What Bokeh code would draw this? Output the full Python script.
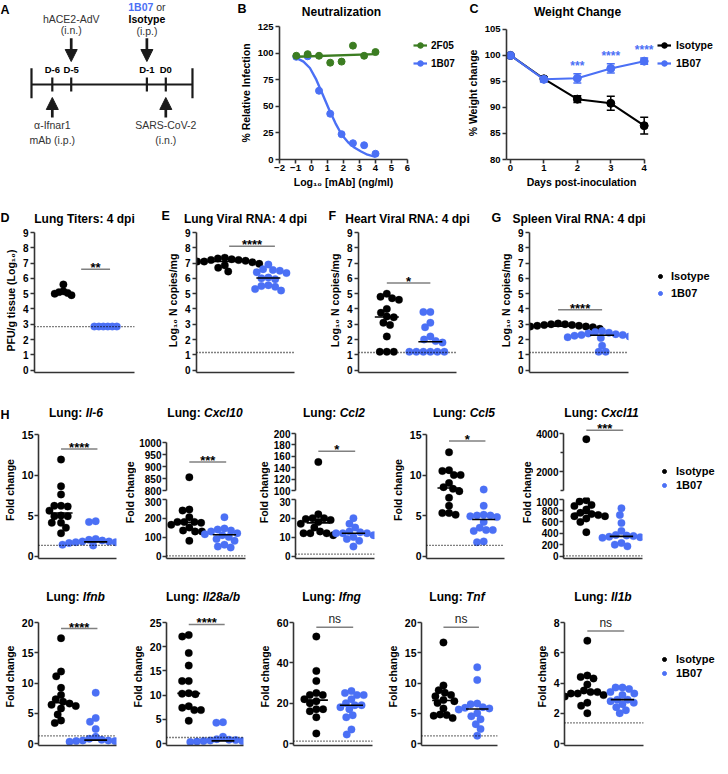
import math
import numpy as np
from bokeh.plotting import figure
from bokeh.layouts import row, column
from bokeh.models import (Range1d, LinearAxis, FixedTicker, Legend, LegendItem,
                          Whisker, ColumnDataSource, Arrow, NormalHead, TeeHead, Span)
from bokeh.core.properties import value
from bokeh.embed import file_html
from bokeh.resources import INLINE

FONT = "Liberation Sans"
BLUE = "#4b70f5"
GREEN = "#3c7d22"
INK = "#1a1a1a"
AXC = "#333333"
BARC = "#808080"

# ======================= DATA =======================
# A: schedule
sched_days = [-6, -5, -1, 0]
sched_labels = ["D-6", "D-5", "D-1", "D0"]
sched_ends = [-7.1, 1.41]
down_days = [-5, -1]
up_days = [-6, 0]

# B: neutralization
b_dose = [-0.95, -0.24, 0.47, 1.17, 1.88, 2.59, 3.29, 4.0]
b_2f05 = [97.5, 99.0, 97.5, 91.0, 92.0, 107.0, 97.5, 101.0]
b_1b07 = [96.5, 97.0, 64.6, 43.0, 23.8, 15.3, 13.4, 5.4]
b_fit_2f05_x = [-0.95, 4.0]
b_fit_2f05_y = [96.5, 99.0]
b_fit_1b07_x = [-0.95, -0.5, -0.1, 0.3, 0.7, 1.1, 1.5, 1.9, 2.3, 2.7, 3.1, 3.5, 4.0]
b_fit_1b07_y = [95.5, 92.0, 86.0, 75.0, 61.0, 47.0, 34.0, 23.0, 16.0, 11.0, 7.5, 4.5, 2.5]

# C: weight change
c_days = [0, 1, 2, 3, 4]
c_iso_mean = [100.0, 95.5, 91.6, 90.8, 86.5]
c_iso_err = [0.0, 0.4, 0.65, 1.35, 1.6]
c_b07_mean = [100.0, 95.4, 95.6, 97.5, 98.9]
c_b07_err = [0.0, 0.5, 0.9, 0.9, 0.6]
c_star_days = [2, 3, 4]
c_star_text = ["***", "****", "****"]

# D-G: viral burden (log10)
d_iso = [5.6, 5.15, 5.1, 5.05, 5.0, 4.9]
d_b07 = [2.85, 2.85, 2.85, 2.85, 2.85, 2.85]
e_iso = [7.35, 7.3, 7.25, 7.2, 7.2, 7.15, 7.1, 7.1, 7.05, 7.0, 6.95, 6.85, 6.7, 6.45]
e_b07 = [6.9, 6.6, 6.55, 6.5, 6.4, 6.35, 6.05, 6.0, 5.95, 5.55, 5.5, 5.45, 5.3, 5.2]
f_iso = [5.0, 4.8, 4.7, 4.6, 4.0, 3.75, 3.5, 3.45, 3.1, 2.95, 2.2, 1.2, 1.2, 1.2]
f_b07 = [3.8, 3.8, 3.1, 2.8, 2.2, 2.0, 1.9, 1.8, 1.2, 1.2, 1.2, 1.2, 1.2, 1.2]
g_iso = [3.05, 3.0, 3.0, 2.95, 2.95, 2.9, 2.9, 2.85, 2.85, 2.8, 2.8, 2.75, 2.7, 2.65]
g_b07 = [2.55, 2.5, 2.45, 2.4, 2.35, 2.3, 2.3, 2.25, 2.2, 2.15, 2.1, 1.6, 1.2, 1.2]

# H: cytokine fold change
il6_iso = [11.9, 8.6, 7.6, 6.2, 6.2, 6.1, 5.6, 5.0, 4.9, 4.9, 4.1, 4.1, 3.5, 2.8]
il6_b07 = [4.3, 4.2, 2.1, 2.0, 1.9, 1.8, 1.8, 1.7, 1.7, 1.6, 1.5, 1.4, 1.3, 1.2]
cxcl10_iso = [855, 245, 240, 205, 180, 180, 180, 175, 165, 150, 135, 130, 130, 80]
cxcl10_b07 = [205, 145, 140, 135, 130, 120, 115, 110, 100, 90, 80, 60, 50, 45]
ccl2_iso = [150, 22, 20, 20, 19.5, 19, 18, 17, 15, 13, 12, 12, 12, 11]
ccl2_b07 = [20, 17, 15, 13, 12.5, 12, 12, 12, 11, 10, 9, 8, 5]
ccl5_iso = [12.8, 10.6, 10.5, 10.0, 10.0, 9.0, 8.5, 8.3, 8.0, 7.2, 6.2, 5.3, 5.3, 5.1]
ccl5_b07 = [8.2, 6.2, 5.1, 5.0, 5.0, 4.9, 4.8, 4.2, 3.5, 3.2, 3.2, 3.1, 1.8, 1.7]
cxcl11_iso = [3700, 980, 960, 900, 880, 820, 760, 740, 720, 700, 700, 660, 600, 420]
cxcl11_b07 = [840, 720, 580, 440, 370, 360, 350, 340, 330, 320, 300, 230, 200, 170]
ifnb_iso = [17.4, 11.9, 11.1, 9.2, 8.0, 7.3, 6.9, 6.6, 6.4, 6.2, 5.8, 4.8, 3.8, 3.4]
ifnb_b07 = [8.4, 4.2, 3.6, 2.4, 1.1, 0.8, 0.6, 0.5, 0.5, 0.4, 0.4, 0.4, 0.3, 0.3]
il28_iso = [22.4, 22.1, 18.7, 16.1, 12.9, 12.9, 10.4, 10.3, 10.2, 7.7, 7.4, 6.9, 6.9, 4.7]
il28_b07 = [4.4, 4.3, 1.4, 0.9, 0.8, 0.7, 0.6, 0.5, 0.5, 0.4, 0.4, 0.3, 0.3, 0.3]
ifng_iso = [53, 36, 31, 25, 24, 24, 22, 21, 20, 17, 17, 16, 13, 5]
ifng_b07 = [26, 25, 24, 24, 22, 20, 19, 19, 18, 17, 14, 13, 7, 4.5]
tnf_iso = [16.7, 9.6, 8.8, 8.4, 8.0, 7.8, 7.2, 7.0, 6.7, 5.8, 4.8, 4.7, 4.6, 4.2]
tnf_b07 = [12.6, 10.5, 6.6, 6.5, 6.0, 5.9, 5.8, 5.6, 5.0, 4.5, 4.0, 3.2, 2.4, 1.3]
il1b_iso = [6.8, 4.5, 4.4, 4.3, 3.9, 3.5, 3.4, 3.4, 3.3, 3.3, 3.2, 3.1, 2.7, 2.5, 2.0]
il1b_b07 = [3.7, 3.7, 3.6, 3.4, 3.3, 3.2, 2.9, 2.9, 2.8, 2.7, 2.6, 2.4, 2.2, 2.0]

# ======================= HELPERS =======================
AW = {' ': 278, '-': 333, ':': 333, '/': 278, '(': 333, ')': 333, '.': 278, '*': 389,
      'a': 556, 'b': 611, 'c': 556, 'd': 611, 'e': 556, 'f': 333, 'g': 611, 'h': 611, 'i': 278,
      'j': 278, 'k': 556, 'l': 278, 'm': 889, 'n': 611, 'o': 611, 'p': 611, 'q': 611, 'r': 389,
      's': 556, 't': 333, 'u': 611, 'v': 556, 'w': 778, 'x': 556, 'y': 556, 'z': 500,
      'A': 722, 'B': 722, 'C': 722, 'D': 722, 'E': 667, 'F': 611, 'G': 778, 'H': 722, 'I': 278,
      'L': 611, 'N': 722, 'R': 722, 'S': 667, 'T': 611, 'W': 944}
AR = {' ': 278, 'o': 556, 'r': 333}


def tw(s, size, table=AW):
    return sum(table.get(ch, 556) for ch in s) * size / 1000.0


def lin(va, pa, vb, pb, p_start, p_end):
    k = (vb - va) / (pb - pa)
    return (va + (p_start - pa) * k, va + (p_end - pa) * k)


def make_fig(box, frame, xr, yr):
    fx, fy, fw, fh = box
    fl, ft, fr, fb = frame
    p = figure(width=fw, height=fh, x_range=Range1d(*xr), y_range=Range1d(*yr),
               x_axis_type=None, y_axis_type=None, title=None,
               output_backend="svg", toolbar_location=None,
               min_border_left=int(round(fl - fx)), min_border_right=int(round(fx + fw - fr)),
               min_border_top=int(round(ft - fy)), min_border_bottom=int(round(fy + fh - fb)))
    p.outline_line_color = None
    p.background_fill_color = "white"
    p.border_fill_color = "white"
    return p


def style_axis(ax, tick_px, lab_px, minor=False, standoff=2):
    ax.axis_line_color = AXC
    ax.axis_line_width = 1.6
    ax.major_tick_line_color = AXC
    ax.major_tick_line_width = 1.6
    ax.major_tick_out = 4
    ax.major_tick_in = 0
    ax.minor_tick_line_color = AXC if minor else None
    ax.minor_tick_line_width = 1.4
    ax.minor_tick_out = 3
    ax.minor_tick_in = 0
    ax.major_label_text_font = FONT
    ax.major_label_text_font_style = "bold"
    ax.major_label_text_font_size = tick_px
    ax.major_label_text_color = "black"
    ax.major_label_standoff = standoff
    ax.axis_label_text_font = FONT
    ax.axis_label_text_font_style = "bold"
    ax.axis_label_text_font_size = lab_px
    ax.axis_label_text_color = "black"
    ax.axis_label_standoff = 3


def put_text(p, x, y, s, size, style="bold", color="black", align="left", xoff=0.0, angle=0.0,
             baseline="middle"):
    p.text(x=[x], y=[y], text=[s], text_font=value(FONT), text_font_size=f"{size}px",
           text_font_style=style, text_color=color, text_align=align, text_baseline=baseline,
           x_offset=xoff, angle=angle)


def text_fig(box):
    """A figure whose frame is the whole box, with page-pixel coordinates."""
    fx, fy, fw, fh = box
    return make_fig(box, (fx, fy, fx + fw, fy + fh), (fx, fx + fw), (fy + fh, fy))


def gene_title(p, cx, y, gene, size=12):
    w1 = tw("Lung:", size)
    wsp = tw(" ", size)
    w2 = tw(gene, size)
    x0 = cx - (w1 + wsp + w2) / 2.0
    put_text(p, x0, y, "Lung:", size)
    put_text(p, x0 + w1 + wsp, y, gene, size, style="bold italic")


def swarm(ys, d):
    placed = []
    out = [0.0] * len(ys)
    order = sorted(range(len(ys)), key=lambda i: ys[i])
    for i in order:
        y = ys[i]
        cands = [0.0]
        for (qx, qy) in placed:
            dy = abs(qy - y)
            if dy < d:
                dx = math.sqrt(d * d - dy * dy)
                cands += [qx - dx, qx + dx]
        cands.sort(key=lambda c: (abs(c), c))
        for c in cands:
            if all((c - qx) ** 2 + (y - qy) ** 2 >= d * d - 1e-6 for qx, qy in placed):
                out[i] = c
                placed.append((c, y))
                break
    return out


def seg_px(v, segs):
    si = 0 if (len(segs) == 1 or v <= segs[0]["hi"]) else 1
    s = segs[si]
    return s["lo_px"] + (v - s["lo"]) * (s["hi_px"] - s["lo_px"]) / (s["hi"] - s["lo"]), si


XR = (0.35, 2.6)


def group_points(vals, segs, center, xppu, d):
    info = [seg_px(v, segs) for v in vals]
    offs = swarm([a for a, _ in info], d)
    return [(center + offs[j] / xppu, vals[j], info[j][1]) for j in range(len(vals))]


def draw_sig(p, sig):
    y, text, x0, x1 = sig
    p.segment(x0=[x0], x1=[x1], y0=[y], y1=[y], line_color=BARC, line_width=1.5)
    if text == "ns":
        p.text(x=[(x0 + x1) / 2], y=[y], text=[text], text_font=value(FONT),
               text_font_size="12px", text_font_style="normal", text_color="#222222",
               text_align="center", text_baseline="bottom", y_offset=-1)
    else:
        p.text(x=[(x0 + x1) / 2], y=[y], text=[text], text_font=value(FONT),
               text_font_size="13px", text_font_style="bold", text_color="black",
               text_align="center", text_baseline="middle", y_offset=-1.5)


def dot_fig(box, frame, seg, groups, si, lod=None, meds=None, sig=None, ylabel=None,
            tick_px="10.5px", lab_px="10.5px", xaxis=True, lstand=1):
    fl, ft, fr, fb = frame
    yr = lin(seg["lo"], seg["lo_px"], seg["hi"], seg["hi_px"], fb, ft)
    p = make_fig(box, frame, XR, yr)
    ax = LinearAxis(ticker=FixedTicker(ticks=seg["ticks"], minor_ticks=seg.get("minor", [])),
                    bounds=(yr[0], seg["hi"]), axis_label=ylabel)
    style_axis(ax, tick_px, lab_px, minor=bool(seg.get("minor")), standoff=lstand)
    p.add_layout(ax, "left")
    if xaxis:
        xa = LinearAxis(ticker=FixedTicker(ticks=[]))
        style_axis(xa, tick_px, lab_px)
        xa.major_tick_out = 0
        p.add_layout(xa, "below")
    if lod is not None:
        p.add_layout(Span(location=lod, dimension="width", line_color="black", line_width=1.3,
                          line_dash="1 2"))
    rends = []
    for pts, color in zip(groups, ("black", BLUE)):
        xs = [x for x, v, k in pts if k == si]
        ys = [v for x, v, k in pts if k == si]
        r = None
        if xs:
            r = p.scatter(xs, ys, size=7.5, fill_color=color, line_color=color, line_width=0.3)
        rends.append(r)
    if meds is not None:
        xppu = (fr - fl) / (XR[1] - XR[0])
        mh = 12.0 / xppu
        p.segment(x0=[1 - mh, 2 - mh], x1=[1 + mh, 2 + mh], y0=meds, y1=meds,
                  line_color="black", line_width=1.6)
    if sig is not None:
        draw_sig(p, sig)
    return p, rends


def simple_panel(box, frame, seg, iso, b07, lod, sig, ylabel, tick_px="10.5px",
                 lab_px="10.5px", d=7.0, medians=True, lstand=1):
    fl, ft, fr, fb = frame
    xppu = (fr - fl) / (XR[1] - XR[0])
    groups = [group_points(iso, [seg], 1, xppu, d), group_points(b07, [seg], 2, xppu, d)]
    meds = [float(np.median(iso)), float(np.median(b07))] if medians else None
    return dot_fig(box, frame, seg, groups, 0, lod=lod, meds=meds, sig=sig, ylabel=ylabel,
                   tick_px=tick_px, lab_px=lab_px, lstand=lstand)


def split_panel(xbox, fl, fr, segs, iso, b07, lod, sig, tops, bots, d=7.0):
    """xbox=(x, w); tops/bots = (box_y, box_h, frame_top, frame_bottom)."""
    xppu = (fr - fl) / (XR[1] - XR[0])
    groups = [group_points(iso, segs, 1, xppu, d), group_points(b07, segs, 2, xppu, d)]
    meds = [float(np.median(iso)), float(np.median(b07))]
    x, w = xbox
    pt, _ = dot_fig((x, tops[0], w, tops[1]), (fl, tops[2], fr, tops[3]), segs[1], groups, 1,
                    sig=sig, tick_px="10px", xaxis=False, lstand=1)
    pb, _ = dot_fig((x, bots[0], w, bots[1]), (fl, bots[2], fr, bots[3]), segs[0], groups, 0,
                    lod=lod, meds=meds, tick_px="10px", lstand=1)
    return column(pt, pb)


def ylabel_fig(box, cy, text="Fold change", size=10.5):
    p = text_fig(box)
    put_text(p, box[0] + box[2] / 2.0, cy, text, size, align="center", angle=math.pi / 2)
    return p


def make_legend(items, loc, glyph_w=10, item_h=12, spacing=2, standoff=6, size="11px"):
    return Legend(items=[LegendItem(label=t, renderers=r) for t, r in items], location=loc,
                  orientation="vertical", label_text_font=FONT, label_text_font_style="bold",
                  label_text_font_size=size, label_text_color="black",
                  glyph_width=glyph_w, glyph_height=item_h, label_height=item_h,
                  label_standoff=standoff, spacing=spacing, padding=0, margin=0,
                  border_line_color=None, background_fill_alpha=0, inactive_fill_alpha=0)


def legend_fig(box, loc, series, with_line=False, glyph_w=10, item_h=12, spacing=2,
               standoff=7, size="11px", msize=7.5):
    """Legend-only figure; its renderers carry the series data but are hidden."""
    fx, fy, fw, fh = box
    p = make_fig(box, (fx, fy, fx + fw, fy + fh), (0, 1), (0, 1))
    items = []
    for name, xs, ys, color in series:
        rs = []
        if with_line:
            rl = p.line(xs, ys, line_color=color, line_width=2.2)
            rl.visible = False
            rs.append(rl)
        rm = p.scatter(xs, ys, size=msize, fill_color=color, line_color=color)
        rm.visible = False
        rs.append(rm)
        items.append((name, rs))
    p.add_layout(make_legend(items, loc, glyph_w=glyph_w, item_h=item_h, spacing=spacing,
                             standoff=standoff, size=size))
    return p


# ======================= ROW 1 =======================
# ---- A: schedule ----
pA = make_fig((0, 0, 236, 190), (0, 0, 236, 190), lin(-6, 51.8, 0, 165.3, 0, 236), (190, 0))
pA.segment(x0=[sched_ends[0]], x1=[sched_ends[1]], y0=[84], y1=[84], line_color=INK, line_width=2.2)
pA.segment(x0=sched_ends, x1=sched_ends, y0=[67.7] * 2, y1=[97.7] * 2, line_color=INK, line_width=2.2)
pA.segment(x0=sched_days, x1=sched_days, y0=[77] * 4, y1=[91] * 4, line_color=INK, line_width=2.2)
pA.text(x=sched_days, y=[69] * 4, text=sched_labels, text_font=value(FONT), text_font_size="9.5px",
        text_font_style="bold", text_color="black", text_align="center", text_baseline="middle")
for dd in down_days:
    pA.add_layout(Arrow(end=NormalHead(size=12, fill_color=INK, line_color=INK, line_width=1),
                        x_start=dd, y_start=37.7, x_end=dd, y_end=61, line_color=INK, line_width=2.7))
for dd in up_days:
    pA.add_layout(Arrow(end=NormalHead(size=12, fill_color=INK, line_color=INK, line_width=1),
                        x_start=dd, y_start=117, x_end=dd, y_end=97, line_color=INK, line_width=2.7))

GRY = "#333333"
put_text(pA, down_days[0], 18, "hACE2-AdV", 10.5, style="normal", color=GRY, align="center")
put_text(pA, down_days[0], 29.5, "(i.n.)", 10.5, style="normal", color=GRY, align="center")
w_b = tw("1B07", 10.5)
w_sp = tw(" ", 10.5, AR)
w_or = tw("or", 10.5, AR)
x_start = -(w_b + w_sp + w_or) / 2
put_text(pA, down_days[1], 6.5, "1B07", 10.5, color=BLUE, xoff=x_start)
put_text(pA, down_days[1], 6.5, "or", 10.5, style="normal", color=GRY, xoff=x_start + w_b + w_sp)
put_text(pA, down_days[1], 18.5, "Isotype", 10.5, align="center")
put_text(pA, down_days[1], 30.5, "(i.p.)", 10.5, style="normal", color=GRY, align="center")
put_text(pA, up_days[0], 124, "\u03b1-Ifnar1", 10.5, style="normal", color=GRY, align="center")
put_text(pA, up_days[0], 139.5, "mAb (i.p.)", 10.5, style="normal", color=GRY, align="center")
put_text(pA, up_days[1], 124, "SARS-CoV-2", 10.5, style="normal", color=GRY, align="center")
put_text(pA, up_days[1], 139.5, "(i.n.)", 10.5, style="normal", color=GRY, align="center")
put_text(pA, sched_ends[0], 9, "A", 12.5, xoff=-31)

# ---- header over B and C ----
h1 = text_fig((236, 0, 480, 18))
put_text(h1, 237, 8, "B", 12.5)
put_text(h1, 341, 11, "Neutralization", 12, align="center")
put_text(h1, 469, 8, "C", 12.5)
put_text(h1, 577, 11, "Weight Change", 12, align="center")

# ---- B: neutralization ----
pB = make_fig((236, 18, 174, 172), (275, 26, 407, 159), (-2, 6), (0, 125))
axy = LinearAxis(ticker=FixedTicker(ticks=[0, 25, 50, 75, 100, 125]),
                 axis_label="% Relative Infection")
style_axis(axy, "9.5px", "10.5px")
pB.add_layout(axy, "left")
axx = LinearAxis(ticker=FixedTicker(ticks=[-2, -1, 0, 1, 2, 3, 4, 5, 6]),
                 axis_label="Log\u2081\u2080 [mAb] (ng/ml)")
style_axis(axx, "9.5px", "10.5px", standoff=1)
axx.axis_label_standoff = 2
pB.add_layout(axx, "below")
pB.line(b_fit_1b07_x, b_fit_1b07_y, line_color=BLUE, line_width=2.4)
pB.scatter(b_dose, b_1b07, size=7, fill_color=BLUE, line_color=BLUE)
pB.line(b_fit_2f05_x, b_fit_2f05_y, line_color=GREEN, line_width=2.4)
pB.scatter(b_dose, b_2f05, size=7, fill_color=GREEN, line_color=GREEN)
legB = legend_fig((410, 18, 48, 172), (3, 89),
                  [("2F05", b_dose, b_2f05, GREEN), ("1B07", b_dose, b_1b07, BLUE)],
                  with_line=True, glyph_w=14, item_h=14, spacing=4, standoff=4, size="10px",
                  msize=7)

# ---- C: weight change ----
pC = make_fig((458, 18, 198, 172), (506, 22, 656, 159), lin(0, 510, 4, 643.7, 506, 656),
              lin(80, 159, 105, 25, 159, 22))
acy = LinearAxis(ticker=FixedTicker(ticks=[80, 85, 90, 95, 100, 105]), bounds=(80, 105),
                 axis_label="% Weight change")
style_axis(acy, "9.5px", "10.5px")
pC.add_layout(acy, "left")
acx = LinearAxis(ticker=FixedTicker(ticks=[0, 1, 2, 3, 4]), bounds=(-0.12, 4),
                 axis_label="Days post-inoculation")
style_axis(acx, "9.5px", "10.5px", standoff=1)
acx.axis_label_standoff = 2
pC.add_layout(acx, "below")
for mean, err, col in ((c_iso_mean, c_iso_err, "black"), (c_b07_mean, c_b07_err, BLUE)):
    keep = [i for i in range(len(c_days)) if err[i] > 0]
    src = ColumnDataSource(dict(x=[c_days[i] for i in keep],
                                upper=[mean[i] + err[i] for i in keep],
                                lower=[mean[i] - err[i] for i in keep]))
    pC.add_layout(Whisker(source=src, base="x", upper="upper", lower="lower", line_color=col,
                          line_width=1.5,
                          upper_head=TeeHead(size=8, line_color=col, line_width=1.5),
                          lower_head=TeeHead(size=8, line_color=col, line_width=1.5)))
pC.line(c_days, c_iso_mean, line_color="black", line_width=2)
pC.scatter(c_days, c_iso_mean, size=8, fill_color="black", line_color="black")
pC.line(c_days, c_b07_mean, line_color=BLUE, line_width=2)
pC.scatter(c_days, c_b07_mean, size=8, fill_color=BLUE, line_color=BLUE)
star_y = [c_b07_mean[d] + c_b07_err[d] + 1.5 for d in c_star_days]
pC.text(x=c_star_days, y=star_y, text=c_star_text, text_font=value(FONT), text_font_size="12px",
        text_font_style="bold", text_color=BLUE, text_align="center", text_baseline="middle")
legC = legend_fig((656, 18, 60, 172), (1, 89),
                  [("Isotype", c_days, c_iso_mean, "black"), ("1B07", c_days, c_b07_mean, BLUE)],
                  with_line=True, glyph_w=14, item_h=14, spacing=4, standoff=5, size="10.5px",
                  msize=8)

# ======================= ROW 2 =======================
h2 = text_fig((0, 190, 716, 36))
for lt, lx, ly in (("D", 0, 217), ("E", 161, 215), ("F", 328, 215), ("G", 491, 217)):
    put_text(h2, lx, ly, lt, 12.5)
for tt, cx in (("Lung Titers: 4 dpi", 84), ("Lung Viral RNA: 4 dpi", 245),
               ("Heart Viral RNA: 4 dpi", 407), ("Spleen Viral RNA: 4 dpi", 578.5)):
    put_text(h2, cx, 218, tt, 12, align="center")

S2 = dict(lo=0, lo_px=369.6, hi=9, hi_px=232, ticks=list(range(10)))
YL = "Log\u2081\u2080 N copies/mg"
pD, _ = simple_panel((0, 226, 160, 154), (34, 228, 134, 372), S2, d_iso, d_b07, 2.85,
                     (6.6, "**", 1.4, 2.05), "PFU/g tissue (Log\u2081\u2080)", tick_px="10px",
                     d=4.5, medians=False, lstand=2)
pE, _ = simple_panel((160, 226, 164, 154), (196, 228, 294, 372), S2, e_iso, e_b07, 1.15,
                     (8.1, "****", 1.1, 2.15), YL, tick_px="10px", lstand=2)
pF, _ = simple_panel((324, 226, 166, 154), (358, 228, 456, 372), S2, f_iso, f_b07, 1.15,
                     (5.7, "*", 1.0, 2.0), YL, tick_px="10px", lstand=2)
pG, _ = simple_panel((490, 226, 162, 154), (529, 228, 628, 372), S2, g_iso, g_b07, 1.15,
                     (3.95, "****", 1.0, 2.0), YL, tick_px="10px", lstand=2)
legG = legend_fig((652, 226, 64, 154), (3, 73),
                  [("Isotype", [1] * len(g_iso), g_iso, "black"),
                   ("1B07", [2] * len(g_b07), g_b07, BLUE)], spacing=5, standoff=6)

# ======================= ROW 3 (H, part 1) =======================
h3 = text_fig((0, 380, 716, 40))
put_text(h3, 0, 414, "H", 12.5)
for gene, cx in (("Il-6", 75.5), ("Cxcl10", 204.5), ("Ccl2", 333.5), ("Ccl5", 463.5),
                 ("Cxcl11", 601.5)):
    gene_title(h3, cx, 412, gene)

Z3, T3 = 555.5, 434
FC = "Fold change"
TOP3 = (420, 77, 421, 490)
BOT3 = (497, 68, 497, 558)
p_il6, _ = simple_panel((0, 420, 122, 145), (35, 421, 116, 558),
                        dict(lo=0, lo_px=Z3, hi=15, hi_px=T3, ticks=[0, 5, 10, 15]),
                        il6_iso, il6_b07, 1.3, (13.2, "****", 1.0, 2.05), FC)
yl10 = ylabel_fig((122, 420, 14, 145), 495)
p_cx10 = split_panel((136, 120), 164, 245,
                     [dict(lo=0, lo_px=Z3, hi=300, hi_px=498.7, ticks=[0, 100, 200, 300]),
                      dict(lo=800, lo_px=490, hi=1000, hi_px=442,
                           ticks=[800, 850, 900, 950, 1000])],
                     cxcl10_iso, cxcl10_b07, 1.0, (919, "***", 1.0, 2.05), TOP3, BOT3)
yl2 = ylabel_fig((256, 420, 14, 145), 495)
p_ccl2 = split_panel((270, 118), 293, 374,
                     [dict(lo=0, lo_px=Z3, hi=30, hi_px=498.7, ticks=[0, 10, 20, 30]),
                      dict(lo=100, lo_px=490, hi=200, hi_px=433,
                           ticks=[100, 120, 140, 160, 180, 200])],
                     ccl2_iso, ccl2_b07, 1.0, (169, "*", 1.0, 2.05), TOP3, BOT3)
p_ccl5, _ = simple_panel((388, 420, 131, 145), (423, 421, 504, 558),
                         dict(lo=0, lo_px=Z3, hi=15, hi_px=T3, ticks=[0, 5, 10, 15]),
                         ccl5_iso, ccl5_b07, 1.3, (14.2, "*", 1.0, 2.05), FC)
yl11 = ylabel_fig((519, 420, 14, 145), 495)
p_cx11 = split_panel((533, 122), 561, 642,
                     [dict(lo=0, lo_px=Z3, hi=1000, hi_px=498.7,
                           ticks=[0, 200, 400, 600, 800, 1000]),
                      dict(lo=1000, lo_px=490, hi=4000, hi_px=433, ticks=[2000, 4000],
                           minor=[1000, 3000])],
                     cxcl11_iso, cxcl11_b07, 1.0, (4170, "***", 1.0, 2.05), TOP3, BOT3)
p_leg3 = legend_fig((655, 420, 61, 145), (4, 67),
                    [("Isotype", [1] * len(cxcl11_iso), cxcl11_iso, "black"),
                     ("1B07", [2] * len(cxcl11_b07), cxcl11_b07, BLUE)])

# ======================= ROW 4 (H, part 2) =======================
h4 = text_fig((0, 565, 716, 41))
for gene, cx in (("Ifnb", 75), ("Il28a/b", 202.5), ("Ifng", 331), ("Tnf", 456.5),
                 ("Il1b", 602.5)):
    gene_title(h4, cx, 596, gene)

Z4, T4 = 743, 622
p_ifnb, _ = simple_panel((0, 606, 128, 150), (34, 607, 116, 745),
                         dict(lo=0, lo_px=Z4, hi=20, hi_px=T4, ticks=[0, 5, 10, 15, 20]),
                         ifnb_iso, ifnb_b07, 1.27, (19.0, "****", 1.0, 2.05), FC)
p_il28, _ = simple_panel((128, 606, 127, 150), (162, 607, 243, 745),
                         dict(lo=0, lo_px=Z4, hi=25, hi_px=T4, ticks=[0, 5, 10, 15, 20, 25]),
                         il28_iso, il28_b07, 1.24, (24.6, "****", 1.0, 2.05), FC)
p_ifng, _ = simple_panel((255, 606, 128, 150), (290, 607, 372, 745),
                         dict(lo=0, lo_px=Z4, hi=60, hi_px=T4, ticks=[0, 20, 40, 60]),
                         ifng_iso, ifng_b07, 1.2, (57.7, "ns", 1.0, 2.05), FC)
p_tnf, _ = simple_panel((383, 606, 149, 150), (416, 607, 497, 745),
                        dict(lo=0, lo_px=Z4, hi=20, hi_px=T4, ticks=[0, 5, 10, 15, 20]),
                        tnf_iso, tnf_b07, 1.27, (19.2, "ns", 1.0, 2.05), FC)
p_il1b, _ = simple_panel((532, 606, 123, 150), (562, 607, 643, 745),
                         dict(lo=0, lo_px=Z4, hi=8, hi_px=T4, ticks=[0, 2, 4, 6, 8]),
                         il1b_iso, il1b_b07, 1.37, (7.44, "ns", 1.0, 2.05), FC)
p_leg4 = legend_fig((655, 606, 61, 150), (4, 66),
                    [("Isotype", [1] * len(il1b_iso), il1b_iso, "black"),
                     ("1B07", [2] * len(il1b_b07), il1b_b07, BLUE)])

layout = column(
    row(pA, column(h1, row(pB, legB, pC, legC))),
    h2,
    row(pD, pE, pF, pG, legG),
    h3,
    row(p_il6, yl10, p_cx10, yl2, p_ccl2, p_ccl5, yl11, p_cx11, p_leg3),
    h4,
    row(p_ifnb, p_il28, p_ifng, p_tnf, p_il1b, p_leg4),
)

open("out.html", "w").write(file_html(layout, INLINE, title="Figure"))
